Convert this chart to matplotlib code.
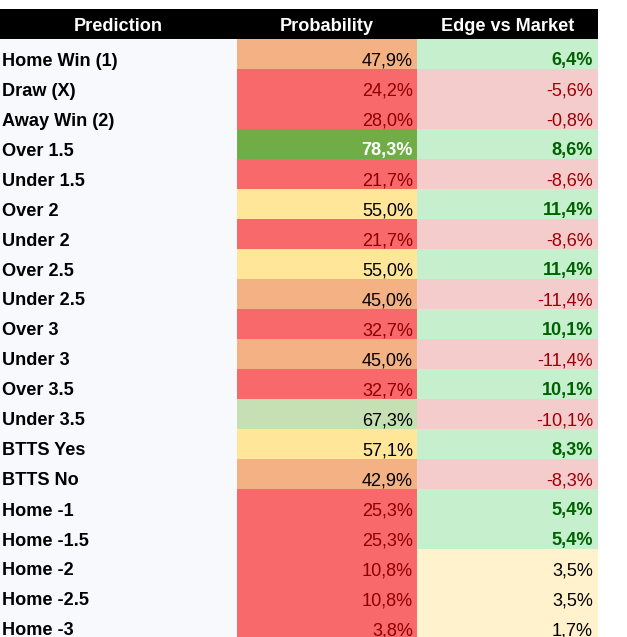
import matplotlib
matplotlib.use("Agg")
import matplotlib.pyplot as plt
import numpy as np

predictions = ["Home Win (1)", "Draw (X)", "Away Win (2)", "Over 1.5", "Under 1.5",
               "Over 2", "Under 2", "Over 2.5", "Under 2.5", "Over 3", "Under 3",
               "Over 3.5", "Under 3.5", "BTTS Yes", "BTTS No", "Home -1", "Home -1.5",
               "Home -2", "Home -2.5", "Home -3"]
probability = [47.9, 24.2, 28.0, 78.3, 21.7, 55.0, 21.7, 55.0, 45.0, 32.7, 45.0,
               32.7, 67.3, 57.1, 42.9, 25.3, 25.3, 10.8, 10.8, 3.8]
edge = [6.4, -5.6, -0.8, 8.6, -8.6, 11.4, -8.6, 11.4, -11.4, 10.1, -11.4,
        10.1, -10.1, 8.3, -8.3, 5.4, 5.4, 3.5, 3.5, 1.7]
headers = ["Prediction", "Probability", "Edge vs Market"]

plt.rcParams['font.family'] = ['Liberation Sans', 'DejaVu Sans']
FS = 13.1

W, H = 627, 637
fig = plt.figure(figsize=(W / 100, H / 100), dpi=100)
ax = fig.add_axes([0, 0, 1, 1])
ax.set_xlim(0, W)
top = -1 - 9 / 30
ax.set_ylim(top + H / 30, top)
ax.axis('off')

col_edges = [0, 237, 417, 598]
n = len(predictions)
rows = np.arange(n)


def fmt(v):
    return f"{v:.1f}".replace('.', ',') + '%'


def prob_style(p):
    if p >= 70:
        return '#70AD47', 'white', 'bold'
    if p >= 60:
        return '#C6E0B4', 'black', 'normal'
    if p >= 50:
        return '#FFE699', 'black', 'normal'
    if p >= 40:
        return '#F4B183', 'black', 'normal'
    return '#F8696B', '#8B0000', 'normal'


def edge_style(e):
    if e > 5:
        return '#C6EFCE', '#006100', 'bold'
    if e < 0:
        return '#F4CCCC', '#9C0006', 'normal'
    return '#FFF2CC', 'black', 'normal'


# header
ax.barh(-0.5, col_edges[-1] - col_edges[0], left=col_edges[0], height=1,
        color='black', linewidth=0)
for i, h in enumerate(headers):
    cx = (col_edges[i] + col_edges[i + 1]) / 2
    ax.text(cx, -8 / 30, h, ha='center', va='baseline', color='white',
            fontsize=FS, fontweight='bold')

# prediction column
ax.barh(rows + 0.5, col_edges[1] - col_edges[0], left=col_edges[0], height=1,
        color='#F7F9FD', linewidth=0)
pst = [prob_style(p) for p in probability]
est = [edge_style(e) for e in edge]
ax.barh(rows + 0.5, col_edges[2] - col_edges[1], left=col_edges[1], height=1,
        color=[s[0] for s in pst], linewidth=0)
ax.barh(rows + 0.5, col_edges[3] - col_edges[2], left=col_edges[2], height=1,
        color=[s[0] for s in est], linewidth=0)

base = 1 - 3.5 / 30
for i in range(n):
    y = i + base
    ax.text(col_edges[0] + 2, y, predictions[i], ha='left', va='baseline',
            fontsize=FS, fontweight='bold', color='black')
    ax.text(col_edges[2] - 4, y, fmt(probability[i]), ha='right', va='baseline',
            fontsize=FS, fontweight=pst[i][2], color=pst[i][1])
    ax.text(col_edges[3] - 5, y, fmt(edge[i]), ha='right', va='baseline',
            fontsize=FS, fontweight=est[i][2], color=est[i][1])

fig.savefig('out.png', dpi=100, facecolor='white')
